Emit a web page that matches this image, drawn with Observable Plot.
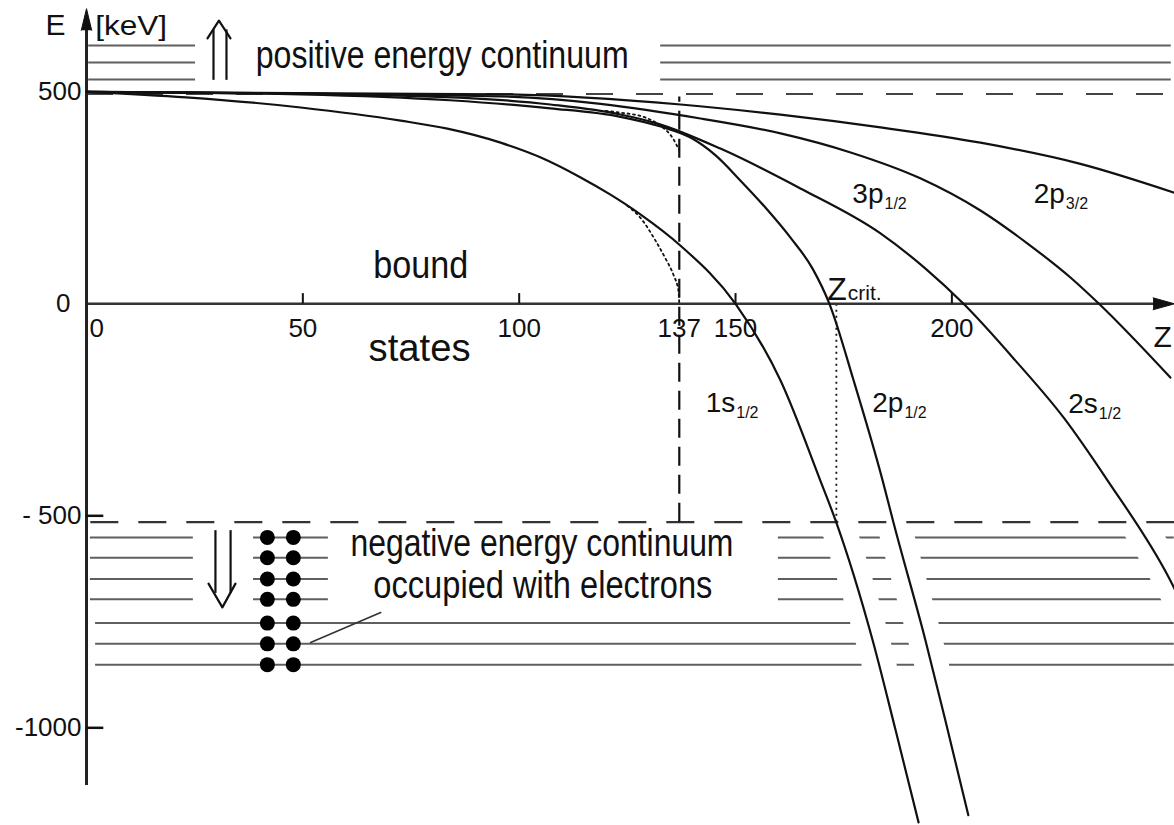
<!DOCTYPE html>
<html>
<head>
<meta charset="utf-8">
<script src="https://cdn.jsdelivr.net/npm/d3@7"></script>
<script src="https://cdn.jsdelivr.net/npm/@observablehq/plot@0.6"></script>
<style>
  html, body { margin: 0; padding: 0; background: #fff; }
  #chart svg { display: block; }
</style>
</head>
<body>
<div id="chart"></div>
<script>
// ---- Axis ticks ----------------------------------------------------------
const zTicks = [0, 50, 100, 137, 150, 200];
const zTickLabels = ["0", "50", "100", "137", "150", "200"];
const zTickMarks = [50, 100, 150, 200];
const eTicks = [500, 0, -500, -1000];
const eTickLabels = ["500", "0", "- 500", "-1000"];
const eTickMarks = [-500, -1000];

// ---- Continuum boundaries (keV) and the lines that fill them ------------
const continuumEdges = [495, -515];
const positiveLevels = [609, 569, 529];
const positiveSpans = [[0.5, 25.2], [132.7, 250.7]];
const negativeLevelsUpper = [-551, -599, -649, -697];
const negativeUpperSpans = [[0.9, 24.7], [38.6, 55.9], [159.9, 251.4]];
const negativeLevelsLower = [-753, -802, -851];
const negativeLowerSpans = [[2.1, 251.4]];

// electrons sitting in the filled Dirac sea
const electronZ = [41.8, 47.8];
const electronLevels = [-551, -599, -649, -697, -753, -802, -851];

// ---- Bound-state energies E(Z) in keV, [Z, E] ----------------------------
const state1s = [[0,500],[23,487],[49.5,463],[72.6,432],[83.4,413],[95.7,380],[105,345],[114.2,298],[121,258],[128,211],[137.3,137],[150,0],[160.4,-181],[169.6,-417],[173.3,-516],[181.7,-794],[187,-1006],[192.3,-1223]];
const state2p1 = [[0,500],[49.5,494],[84,480],[107.2,461],[123.4,441],[132.7,418],[139.6,392],[145.4,350],[151.1,291],[156.9,227],[162.7,156],[167.8,83],[171.7,0],[177.3,-181],[184,-417],[186.5,-516],[193.9,-794],[198.5,-983],[203.8,-1206]];
const state2s = [[0,500],[72.6,491],[107.2,470],[123.4,446.5],[132,425],[146.5,366],[165,272],[183.5,166],[193.9,83],[202.7,0],[214.7,-134],[225.8,-268],[236,-417],[250.1,-645],[251.9,-681]];
const state3p1 = [[0,500],[95.7,489],[141.9,437],[160.4,402],[176.6,357],[192.7,296],[206.6,220],[217.5,142],[227.4,62],[234,0],[250.5,-174]];
const state2p3 = [[0,500],[95.7,494],[137.3,470],[160.4,446],[183.5,416],[206.6,380],[229.7,330],[251.4,262]];
// point-nucleus solutions, ending at Z = 137
const point1s = [[125,231],[128,203],[131.5,149],[133.8,107],[135.7,67],[136.8,31],[137,0]];
const point2s = [[120,455],[123.4,451],[129.2,439],[132.7,420],[135.4,392],[137,362]];

// ---- Reference lines -------------------------------------------------------
const zAlpha = 137;          // 1/alpha
const zCrit = 173.3;         // 1s reaches the negative continuum
const alphaLineTop = 488;

// ---- Annotations -----------------------------------------------------------
const annotations = [
  {text: "positive energy continuum", z: 39.1, e: 555},
  {text: "bound", z: 66.3, e: 62},
  {text: "states", z: 65.2, e: -134},
  {text: "negative energy continuum", z: 61.0, e: -594},
  {text: "occupied with electrons", z: 66.3, e: -693}
];
const stateLabels = [
  {name: "1s", sub: "1/2", z: 143.1, e: -255},
  {name: "2p", sub: "1/2", z: 181.6, e: -255},
  {name: "2s", sub: "1/2", z: 226.9, e: -257},
  {name: "3p", sub: "1/2", z: 177.0, e: 237},
  {name: "2p", sub: "3/2", z: 218.9, e: 237}
];
const critLabel = {name: "Z", sub: "crit.", z: 171.2, e: 8};
const axisTitles = [
  {text: "E", z: -9.5, e: 633, size: 30},
  {text: "[keV]", z: 2.0, e: 633, size: 27},
  {text: "Z", z: 246.6, e: -103, size: 30}
];
const pointerLine = [[51.8, -799], [68, -728]];
const upArrowHead = [[27.96, 626], [30.6, 668], [33.28, 626]];
const upArrowStems = [29.35, 32.35];
const upArrowStemRange = [527, 646];
const downArrowHead = [[28.2, -660], [31.4, -716], [34.43, -660]];
const downArrowStems = [29.8, 33.3];
const downArrowStemRange = [-683, -535];

// ---- Styling ---------------------------------------------------------------
const FONT = "'Liberation Sans', Arial, Helvetica, sans-serif";
const INK = "#111";
const GREY = "#5f5f5f";
const fitWidths = new Map([
  ["positive energy continuum", 373],
  ["negative energy continuum", 383],
  ["occupied with electrons", 339],
  ["bound", 95],
  ["states", 102],
  ["[keV]", 72]
]);

const ctx = document.createElement("canvas").getContext("2d");
function textWidth(str, size) {
  ctx.font = `${size}px ${FONT}`;
  return ctx.measureText(str).width;
}

function segments(levels, spans) {
  return levels.flatMap(e => spans.map(([z1, z2]) => ({e, z1, z2})));
}
function diveTail(points) {
  const i = points.findIndex(p => p[1] < -500);
  return points.slice(Math.max(0, i - 1));
}
const X = d => d[0], Y = d => d[1];
const textBase = {fontFamily: FONT, fill: INK, textAnchor: "start", lineAnchor: "bottom"};

function subscripted(lbl, size, subSize, subDy) {
  const w = textWidth(lbl.name, size);
  return [
    Plot.text([lbl], {...textBase, x: "z", y: "e", text: "name", fontSize: size}),
    Plot.text([lbl], {...textBase, x: "z", y: "e", text: "sub", fontSize: subSize, dx: w + 1, dy: subDy})
  ];
}

const curveStyle = {x: X, y: Y, curve: "monotone-x", stroke: INK, strokeWidth: 2.2};
const diving = [state1s, state2p1, state2s];

const chart = Plot.plot({
  width: 1174,
  height: 825,
  marginLeft: 86, marginRight: 0, marginTop: 0, marginBottom: 0,
  x: {domain: [0, 251.45], axis: null},
  y: {domain: [-1230.4, 715.3], axis: null},
  style: {fontFamily: FONT, background: "#fff", color: INK},
  marks: [
    // continuum levels
    Plot.ruleY(segments(positiveLevels, positiveSpans), {y: "e", x1: "z1", x2: "z2", stroke: GREY, strokeWidth: 2}),
    Plot.ruleY(segments(negativeLevelsUpper, negativeUpperSpans), {y: "e", x1: "z1", x2: "z2", stroke: GREY, strokeWidth: 2}),
    Plot.ruleY(segments(negativeLevelsLower, negativeLowerSpans), {y: "e", x1: "z1", x2: "z2", stroke: GREY, strokeWidth: 2}),

    // white gaps where the diving states cut through the sea
    ...diving.map(s => Plot.line(diveTail(s), {x: X, y: Y, curve: "monotone-x", stroke: "#fff", strokeWidth: 34})),

    // continuum edges
    Plot.ruleY([continuumEdges[0]], {x1: 0, x2: 251.45, stroke: "#444", strokeWidth: 2, strokeDasharray: "27,23"}),
    Plot.ruleY([continuumEdges[1]], {x1: 1, x2: 251.45, stroke: "#333", strokeWidth: 2.2, strokeDasharray: "28,20"}),

    // Z = 137 and Z_crit markers
    Plot.ruleX([zAlpha], {y1: continuumEdges[1], y2: alphaLineTop, stroke: INK, strokeWidth: 2.2, strokeDasharray: "19,9"}),
    Plot.ruleX([zCrit], {y1: continuumEdges[1], y2: 0, stroke: INK, strokeWidth: 1.8, strokeDasharray: "2,4"}),

    // axes
    Plot.ruleY([0], {x1: 0, x2: 247, stroke: "#333", strokeWidth: 2.5}),
    Plot.line([[246.5, 14], [251.45, 0], [246.5, -14]], {x: X, y: Y, fill: INK, stroke: INK, strokeWidth: 1}),
    Plot.ruleX([0], {y1: -1136, y2: 660, stroke: "#222", strokeWidth: 3}),
    Plot.line([[-1.2, 645], [0, 696], [1.2, 645]], {x: X, y: Y, fill: INK, stroke: INK, strokeWidth: 1}),
    Plot.ruleX(zTickMarks, {y1: 0, y2: 24, stroke: INK, strokeWidth: 2}),
    Plot.ruleY(eTickMarks, {x1: 0, x2: 4, stroke: INK, strokeWidth: 2.5}),

    // bound-state curves
    Plot.line(state2p3, curveStyle),
    Plot.line(state3p1, curveStyle),
    Plot.line(state2s, curveStyle),
    Plot.line(state2p1, curveStyle),
    Plot.line(state1s, curveStyle),
    Plot.line(point1s, {...curveStyle, strokeWidth: 1.8, strokeDasharray: "2,3.5"}),
    Plot.line(point2s, {...curveStyle, strokeWidth: 1.8, strokeDasharray: "2,3.5"}),

    // electrons
    Plot.dot(d3.cross(electronZ, electronLevels), {x: X, y: Y, r: 7.5, fill: "#000", stroke: "none"}),
    Plot.line(pointerLine, {x: X, y: Y, stroke: "#333", strokeWidth: 1.6}),

    // up / down double arrows
    Plot.line(upArrowHead, {x: X, y: Y, stroke: INK, strokeWidth: 2.2}),
    Plot.ruleX(upArrowStems, {y1: upArrowStemRange[0], y2: upArrowStemRange[1], stroke: INK, strokeWidth: 2.2}),
    Plot.line(downArrowHead, {x: X, y: Y, stroke: INK, strokeWidth: 2.2}),
    Plot.ruleX(downArrowStems, {y1: downArrowStemRange[0], y2: downArrowStemRange[1], stroke: INK, strokeWidth: 2.2}),

    // tick labels
    Plot.text(zTicks, {x: d => d, y: 0, text: (d, i) => zTickLabels[i], dy: 25,
      fontSize: 26, fontFamily: FONT, fill: INK,
      textAnchor: "middle", lineAnchor: "middle", filter: d => d !== 0}),
    Plot.text([0], {x: d => d, y: 0, text: () => zTickLabels[0], dy: 25, dx: 3,
      fontSize: 26, fontFamily: FONT, fill: INK, textAnchor: "start", lineAnchor: "middle"}),
    Plot.text(eTicks, {x: 0, y: d => d, text: (d, i) => eTickLabels[i], dx: -5,
      fontSize: 26, fontFamily: FONT, fill: INK, textAnchor: "end", lineAnchor: "middle",
      filter: d => d !== 0}),
    Plot.text([0], {x: 0, y: d => d, text: () => eTickLabels[1], dx: -16,
      fontSize: 26, fontFamily: FONT, fill: INK, textAnchor: "end", lineAnchor: "middle"}),

    // axis titles
    ...axisTitles.map(t => Plot.text([t], {...textBase, x: "z", y: "e", text: "text", fontSize: t.size})),

    // region annotations
    Plot.text(annotations, {...textBase, x: "z", y: "e", text: "text", fontSize: 38}),

    // state labels
    ...stateLabels.flatMap(l => subscripted(l, 28, 16, 6)),
    ...subscripted(critLabel, 32, 21, 0)
  ]
});

// condense the hand-lettered labels to their drawn widths
chart.querySelectorAll("text").forEach(t => {
  const w = fitWidths.get(t.textContent);
  if (w) {
    t.setAttribute("textLength", w);
    t.setAttribute("lengthAdjust", "spacingAndGlyphs");
  }
});

document.getElementById("chart").appendChild(chart);
</script>
</body>
</html>
